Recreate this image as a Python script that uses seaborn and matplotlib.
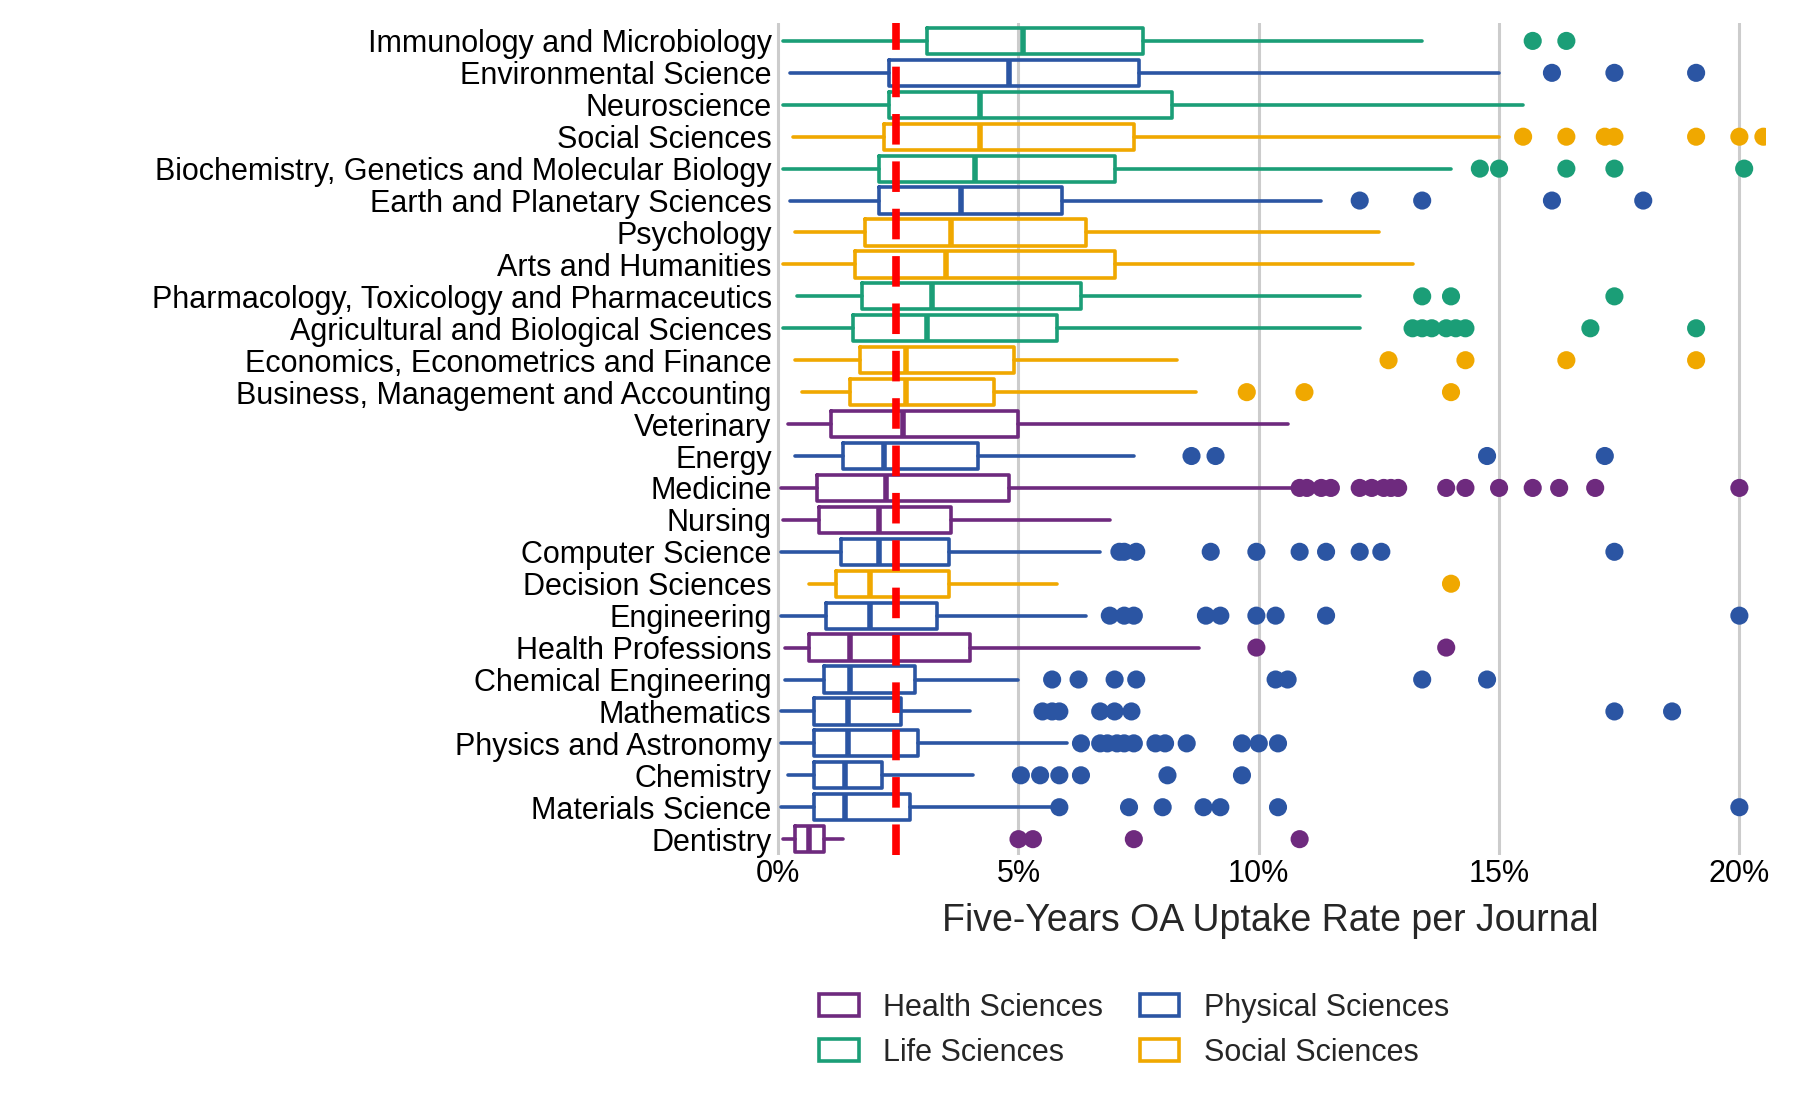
import matplotlib.pyplot as plt
from matplotlib.patches import Patch
import matplotlib.ticker as ticker
import pandas as pd
import seaborn as sns

# ── data (percent) ─────────────────────────────────────────────────────────────

subjects = [
    "Immunology and Microbiology", "Environmental Science", "Neuroscience", "Social Sciences",
    "Biochemistry, Genetics and Molecular Biology", "Earth and Planetary Sciences", "Psychology",
    "Arts and Humanities", "Pharmacology, Toxicology and Pharmaceutics",
    "Agricultural and Biological Sciences", "Economics, Econometrics and Finance",
    "Business, Management and Accounting", "Veterinary", "Energy", "Medicine", "Nursing",
    "Computer Science", "Decision Sciences", "Engineering", "Health Professions",
    "Chemical Engineering", "Mathematics", "Physics and Astronomy", "Chemistry",
    "Materials Science", "Dentistry",
]
areas = [
    "Life", "Physical", "Life", "Social", "Life", "Physical", "Social", "Social", "Life", "Life",
    "Social", "Social", "Health", "Physical", "Health", "Health", "Physical", "Social",
    "Physical", "Health", "Physical", "Physical", "Physical", "Physical", "Physical", "Health",
]
whisk_lo = [0.1, 0.25, 0.1, 0.3, 0.1, 0.25, 0.35, 0.1, 0.4, 0.1, 0.35, 0.5, 0.2, 0.35, 0.05,
            0.1, 0.05, 0.65, 0.05, 0.15, 0.15, 0.05, 0.05, 0.2, 0.05, 0.1]
q1 = [3.1, 2.3, 2.3, 2.2, 2.1, 2.1, 1.8, 1.6, 1.75, 1.55, 1.7, 1.5, 1.1, 1.35, 0.8, 0.85, 1.3,
      1.2, 1.0, 0.65, 0.95, 0.75, 0.75, 0.75, 0.75, 0.35]
median = [5.1, 4.8, 4.2, 4.2, 4.1, 3.8, 3.6, 3.5, 3.2, 3.1, 2.65, 2.65, 2.6, 2.2, 2.25, 2.1,
          2.1, 1.9, 1.9, 1.5, 1.5, 1.45, 1.45, 1.4, 1.4, 0.65]
q3 = [7.6, 7.5, 8.2, 7.4, 7.0, 5.9, 6.4, 7.0, 6.3, 5.8, 4.9, 4.5, 5.0, 4.15, 4.8, 3.6, 3.55,
      3.55, 3.3, 4.0, 2.85, 2.55, 2.9, 2.15, 2.75, 0.95]
whisk_hi = [13.4, 15.0, 15.5, 15.0, 14.0, 11.3, 12.5, 13.2, 12.1, 12.1, 8.3, 8.7, 10.6, 7.4,
            10.8, 6.9, 6.7, 5.8, 6.4, 8.75, 5.0, 4.0, 6.0, 4.05, 5.7, 1.35]
outliers = [
    [15.7, 16.4],
    [16.1, 17.4, 19.1],
    [],
    [15.5, 16.4, 17.2, 17.4, 19.1, 20.0, 20.5],
    [14.6, 15.0, 16.4, 17.4, 20.1],
    [12.1, 13.4, 16.1, 18.0],
    [],
    [],
    [13.4, 14.0, 17.4],
    [13.2, 13.4, 13.6, 13.9, 14.1, 14.3, 16.9, 19.1],
    [12.7, 14.3, 16.4, 19.1],
    [9.75, 10.95, 14.0],
    [],
    [8.6, 9.1, 14.75, 17.2],
    [10.85, 11.0, 11.3, 11.5, 12.1, 12.35, 12.6, 12.75, 12.9, 13.9, 14.3, 15.0, 15.7, 16.25,
     17.0, 20.0],
    [],
    [7.1, 7.2, 7.45, 9.0, 9.95, 10.85, 11.4, 12.1, 12.55, 17.4],
    [14.0],
    [6.9, 7.2, 7.4, 8.9, 9.2, 9.95, 10.35, 11.4, 20.0],
    [9.95, 13.9],
    [5.7, 6.25, 7.0, 7.45, 10.35, 10.6, 13.4, 14.75],
    [5.5, 5.7, 5.85, 6.7, 7.0, 7.35, 17.4, 18.6],
    [6.3, 6.7, 6.85, 7.05, 7.2, 7.4, 7.85, 8.05, 8.5, 9.65, 10.0, 10.4],
    [5.05, 5.45, 5.85, 6.3, 8.1, 9.65],
    [5.85, 7.3, 8.0, 8.85, 9.2, 10.4, 20.0],
    [5.0, 5.3, 7.4, 10.85],
]
overall_median = 2.45

area_labels = {"Health": "Health Sciences", "Life": "Life Sciences",
               "Physical": "Physical Sciences", "Social": "Social Sciences"}
palette = {"Health": "#6E2A7E", "Life": "#1B9E77", "Physical": "#2B55A3", "Social": "#F0A800"}

# ── style ──────────────────────────────────────────────────────────────────────

sns.set_theme(style="whitegrid")
plt.rcParams["font.family"] = ["Liberation Sans", "DejaVu Sans"]

fig = plt.figure(figsize=(18, 11.12), dpi=100)
ax = fig.add_axes([0.431, 0.231, 0.55, 0.748])

for i, s in enumerate(subjects):
    c = palette[areas[i]]
    st = dict(label=s, whislo=whisk_lo[i], q1=q1[i], med=median[i], q3=q3[i],
              whishi=whisk_hi[i], fliers=[])
    ax.bxp([st], positions=[i], vert=False, widths=0.82, showfliers=False, showcaps=False,
           boxprops=dict(color=c, linewidth=2.6),
           whiskerprops=dict(color=c, linewidth=2.6),
           medianprops=dict(color=c, linewidth=4))

out_df = pd.DataFrame(
    [(v, i, areas[i]) for i, vals in enumerate(outliers) for v in vals],
    columns=["rate", "pos", "area"],
)
sns.scatterplot(data=out_df, x="rate", y="pos", hue="area", palette=palette, s=170,
                edgecolor="none", legend=False, ax=ax, zorder=3)

ax.axvline(overall_median, color="red", linewidth=5.5, linestyle=(0, (4, 2.2)), zorder=4)

ax.set_ylim(len(subjects) - 0.5, -0.55)
ax.set_yticks(range(len(subjects)))
ax.set_yticklabels(subjects)
ax.set_xlim(-0.05, 20.55)
ax.set_xticks([0, 5, 10, 15, 20])
ax.xaxis.set_major_formatter(ticker.FuncFormatter(lambda v, _: f"{v:.0f}%"))
ax.tick_params(axis="both", labelsize=22, colors="black", length=0, pad=3)
ax.grid(axis="y", visible=False)
ax.grid(axis="x", color="#CCCCCC", linewidth=2.2)
for sp in ax.spines.values():
    sp.set_visible(False)
ax.set_facecolor("white")
ax.set_xlabel("Five-Years OA Uptake Rate per Journal", fontsize=27, labelpad=10)
ax.set_ylabel("")

handles = [Patch(facecolor="white", edgecolor=palette[k], linewidth=2.6, label=area_labels[k])
           for k in ["Health", "Life", "Physical", "Social"]]
fig.legend(handles=handles, ncol=2, loc="lower center", bbox_to_anchor=(0.63, 0.015),
           frameon=False, fontsize=22, handlelength=1.3, columnspacing=1.2, handletextpad=0.8,
           labelspacing=0.5)

fig.savefig("out.png", dpi=100, facecolor="white")
